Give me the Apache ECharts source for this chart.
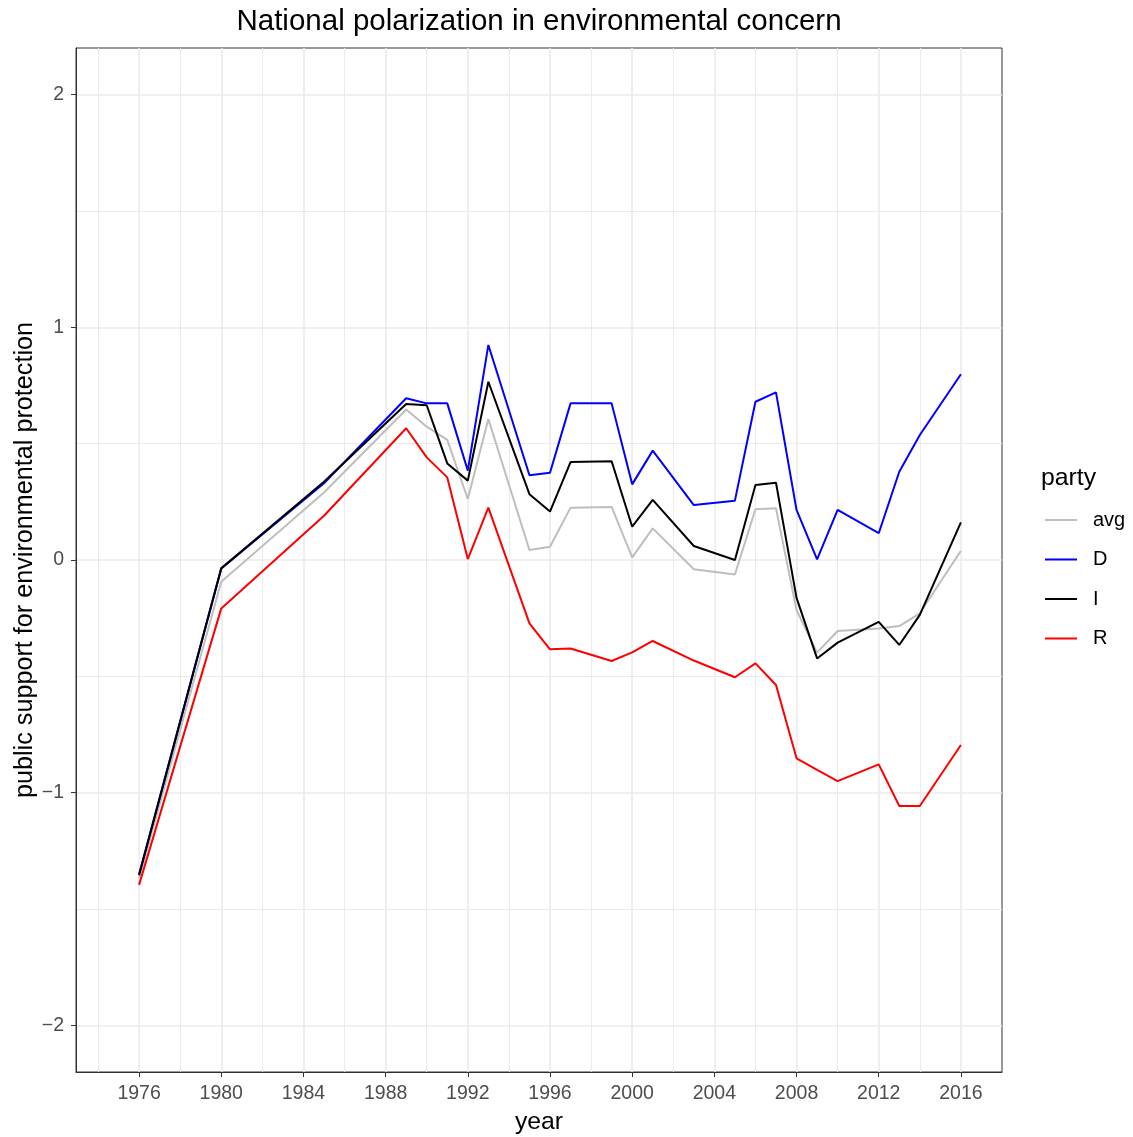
<!DOCTYPE html>
<html>
<head>
<meta charset="utf-8">
<script src="https://cdn.jsdelivr.net/npm/echarts@6/dist/echarts.min.js"></script>
<style>html,body{margin:0;padding:0;background:#fff;}#c{width:1133px;height:1137px;}</style>
</head>
<body>
<div id="c"></div>
<script>
const years = [1976,1980,1985,1989,1990,1991,1992,1993,1995,1996,1997,1999,2000,2001,2003,2005,2006,2007,2008,2009,2010,2012,2013,2014,2016];
const avgValues = [-1.368,-0.093,0.29,0.647,0.573,0.516,0.262,0.606,0.043,0.057,0.225,0.228,0.011,0.136,-0.04,-0.062,0.218,0.222,-0.215,-0.398,-0.305,-0.294,-0.284,-0.229,0.04];
const dValues = [-1.35,-0.036,0.33,0.695,0.673,0.673,0.384,0.924,0.364,0.375,0.673,0.673,0.325,0.47,0.236,0.255,0.68,0.72,0.215,0.003,0.215,0.115,0.379,0.537,0.798];
const iValues = [-1.355,-0.036,0.336,0.67,0.665,0.415,0.341,0.766,0.283,0.208,0.421,0.424,0.143,0.258,0.06,0.0,0.322,0.332,-0.163,-0.423,-0.355,-0.266,-0.365,-0.236,0.162];
const rValues = [-1.396,-0.208,0.19,0.566,0.441,0.355,0.004,0.225,-0.272,-0.384,-0.38,-0.434,-0.397,-0.348,-0.432,-0.504,-0.444,-0.537,-0.852,-0.902,-0.95,-0.878,-1.057,-1.057,-0.795];
const xMajorTicks = [1976,1980,1984,1988,1992,1996,2000,2004,2008,2012,2016];
const xMinorTicks = [1974,1978,1982,1986,1990,1994,1998,2002,2006,2010,2014];
const yMajorTicks = [-2,-1,0,1,2];
const yMinorTicks = [-1.5,-0.5,0.5,1.5];
const seriesNames = ['avg','D','I','R'];
const seriesColors = ['#bebebe','#0000ff','#000000','#ff0000'];
const seriesValues = [avgValues,dValues,iValues,rValues];

const FONT = 'Liberation Sans, Arial, Helvetica, sans-serif';
const XMIN = 1972.93, XMAX = 2018.0, YMIN = -2.2, YMAX = 2.2;
const grid = {left:76, right:131, top:48, bottom:65, containLabel:false, outerBoundsMode:'none',
              show:true, borderColor:'#333333', borderWidth:1, backgroundColor:'transparent'};

const chart = echarts.init(document.getElementById('c'), null, {renderer:'canvas'});
const fmtY = v => String(v).replace('-', '\u2212');
const keyIcon = 'path://M0,0 L32,0 L32,2 L0,2 Z';

const minorGridSeries = {
  name:'__minorgrid', type:'line', data:[], silent:true, z:0,
  markLine:{
    silent:true, symbol:['none','none'], animation:false, z:0,
    label:{show:false},
    lineStyle:{color:'#ebebeb', width:1, type:'solid'},
    emphasis:{disabled:true},
    data: xMinorTicks.map(v => ({xAxis:v})).concat(yMinorTicks.map(v => ({yAxis:v})))
  }
};

const option = {
  backgroundColor:'#ffffff',
  animation:false,
  textStyle:{fontFamily:FONT},
  title:[
    {text:'National polarization in environmental concern', left:539, top:7, padding:0, textAlign:'center',
     textStyle:{fontFamily:FONT, fontSize:29.5, fontWeight:'normal', color:'#000'}},
    {text:'party', left:1041, top:466, padding:0,
     textStyle:{fontFamily:FONT, fontSize:24.8, fontWeight:'normal', color:'#000'}}
  ],
  legend:{
    orient:'vertical', left:1045, top:510, padding:0,
    itemWidth:32, itemHeight:20, itemGap:19.5,
    data:seriesNames.map(n => ({name:n, icon:keyIcon})),
    textStyle:{fontFamily:FONT, fontSize:20, color:'#000', padding:[0,0,0,11]},
    selectedMode:false
  },
  grid:grid,
  xAxis:{type:'value', min:XMIN, max:XMAX,
     name:'year', nameLocation:'middle', nameGap:38,
     nameTextStyle:{fontFamily:FONT, fontSize:24.8, color:'#000'},
     axisLine:{show:true, onZero:false, lineStyle:{color:'#333333', width:1}},
     axisTick:{show:true, length:5, customValues:xMajorTicks, lineStyle:{color:'#333333', width:1}},
     axisLabel:{show:true, customValues:xMajorTicks, margin:12, fontFamily:FONT, fontSize:19.5, color:'#4d4d4d', formatter:v=>String(v)},
     splitLine:{show:true, lineStyle:{color:'#ebebeb', width:1.6}}
  },
  yAxis:{type:'value', min:YMIN, max:YMAX,
     name:'public support for environmental protection', nameLocation:'middle', nameGap:38, nameRotate:90,
     nameMoveOverlap:false,
     nameTextStyle:{fontFamily:FONT, fontSize:25.2, color:'#000'},
     axisLine:{show:true, onZero:false, lineStyle:{color:'#333333', width:1}},
     axisTick:{show:true, length:5, customValues:yMajorTicks, lineStyle:{color:'#333333', width:1}},
     axisLabel:{show:true, customValues:yMajorTicks, margin:12, fontFamily:FONT, fontSize:19.5, color:'#4d4d4d', formatter:fmtY},
     splitLine:{show:true, lineStyle:{color:'#ebebeb', width:1.6}}
  },
  series: [minorGridSeries].concat(seriesNames.map((name, k) => ({
    name:name, type:'line',
    data: years.map((yr, i) => [yr, seriesValues[k][i]]),
    symbol:'none', showSymbol:false,
    lineStyle:{color:seriesColors[k], width:2},
    itemStyle:{color:seriesColors[k]},
    z: 3 + k
  })))
};
chart.setOption(option);
</script>
</body>
</html>
